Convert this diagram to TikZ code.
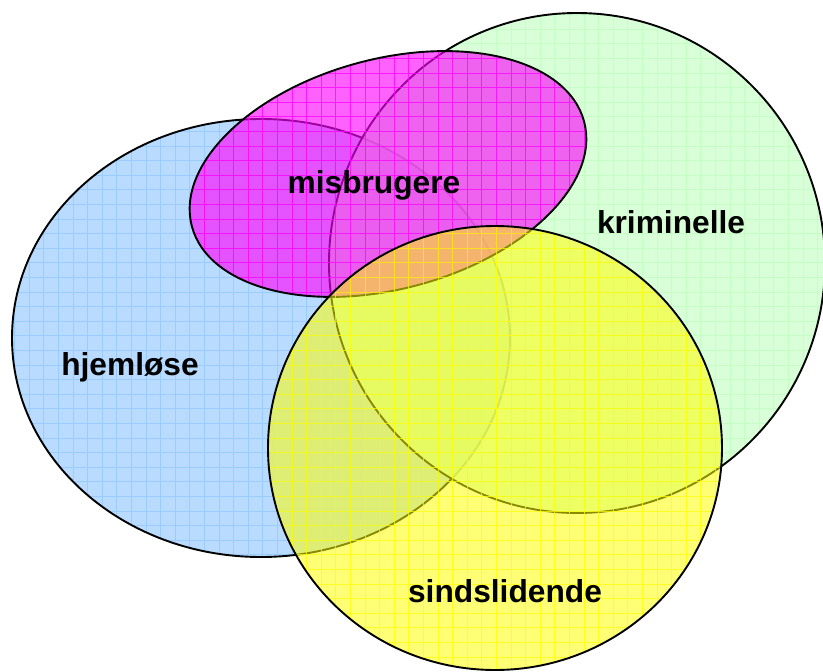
\documentclass[tikz,border=0pt]{standalone}
\usepackage{fontspec}
\setmainfont{Liberation Sans}
\definecolor{bluefill}{RGB}{185,219,255}
\definecolor{bluegrid}{RGB}{155,204,255}
\definecolor{greenfill}{RGB}{206,255,206}
\definecolor{greengrid}{RGB}{192,255,192}
\definecolor{magfill}{RGB}{255,0,255}
\definecolor{yelfill}{RGB}{255,255,0}
\begin{document}
\begin{tikzpicture}[x=1pt,y=1pt,
  outline/.style={draw=black,line width=1.9pt},
  gridline/.style={line width=0.75pt},
  lbl/.style={font=\fontsize{31.7}{38}\selectfont\bfseries,text=black,anchor=base,inner sep=0pt}]
\useasboundingbox (0,0) rectangle (823,-672);

% hjemløse (blue)
\fill[bluefill] (261,-338) ellipse [x radius=249, y radius=219];
\begin{scope}
  \clip (261,-338) ellipse [x radius=249, y radius=219];
  \draw[bluegrid,gridline,step=14.6pt] (-4.6,-706) grid (830,10);
\end{scope}
\draw[outline] (261,-338) ellipse [x radius=249, y radius=219];

% kriminelle (green)
\fill[greenfill,fill opacity=0.8] (577,-263) ellipse [x radius=248, y radius=250];
\begin{scope}
  \clip (577,-263) ellipse [x radius=248, y radius=250];
  \draw[greengrid,gridline,opacity=0.8,step=14.6pt] (-4.6,-706) grid (830,10);
\end{scope}
\draw[outline] (577,-263) ellipse [x radius=248, y radius=250];

% misbrugere (magenta)
\fill[magfill,fill opacity=0.62,shift={(388,-174)},rotate=15] (0,0) ellipse [x radius=203, y radius=115];
\begin{scope}
  \clip[shift={(388,-174)},rotate=15] (0,0) ellipse [x radius=203, y radius=115];
  \draw[magfill,gridline,opacity=0.75,step=14.6pt] (-4.6,-706) grid (830,10);
\end{scope}
\draw[outline,shift={(388,-174)},rotate=15] (0,0) ellipse [x radius=203, y radius=115];

% sindslidende (yellow)
\fill[yelfill,fill opacity=0.54] (495,-448) ellipse [x radius=227, y radius=222];
\begin{scope}
  \clip (495,-448) ellipse [x radius=227, y radius=222];
  \draw[yelfill,gridline,opacity=0.7,step=14.6pt] (-4.6,-706) grid (830,10);
\end{scope}
\draw[outline] (495,-448) ellipse [x radius=227, y radius=222];

% labels
\node[lbl] (misbrugere) at (374,-193) {misbrugere};
\node[lbl] (kriminelle) at (671,-233) {kriminelle};
\node[lbl] (hjemlose) at (130,-375) {hjemløse};
\node[lbl] (sindslidende) at (505,-602) {sindslidende};
\end{tikzpicture}
\end{document}
